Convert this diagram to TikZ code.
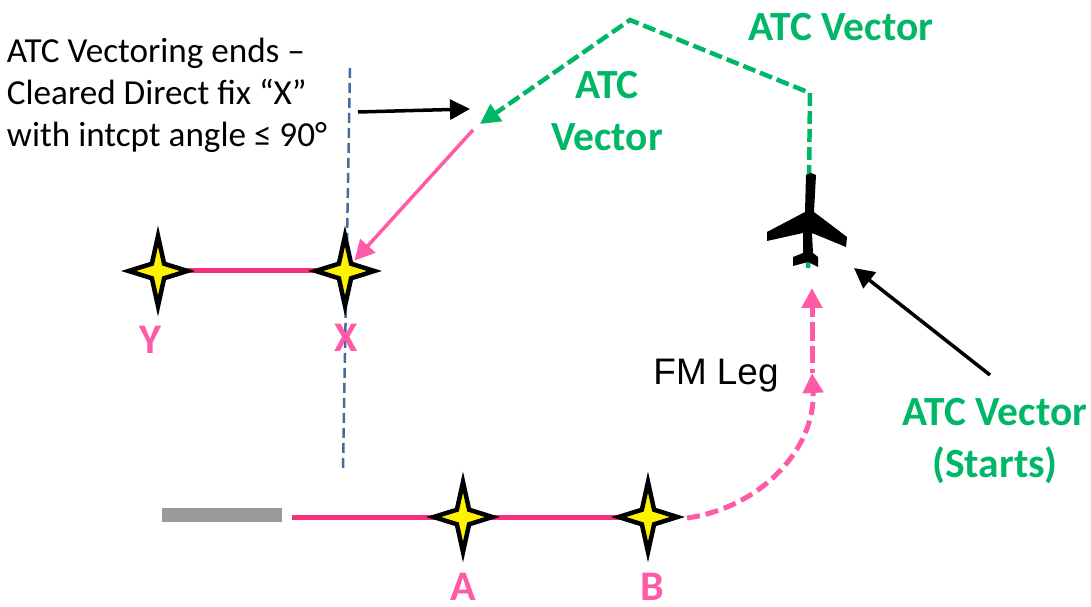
\documentclass[tikz,border=0pt]{standalone}
\usepackage{fontspec}
\setmainfont{Carlito}
\newfontfamily\legfont{Liberation Sans}
\usetikzlibrary{positioning,shapes.geometric,arrows.meta,backgrounds}
\definecolor{atcgreen}{HTML}{00B667}
\definecolor{fmpink}{HTML}{FF5AA8}
\definecolor{legpink}{HTML}{F5307C}
\definecolor{extblue}{HTML}{3F6F9F}
\definecolor{rwygray}{HTML}{9A9A9A}
\tikzset{
  fixstar/.style={star, star points=4, star point ratio=3.4, minimum size=0.7cm, inner sep=0pt,
    draw=black, fill=yellow, line width=0.045cm, miter limit=30, xscale=0.84, transform shape},
  fixlabel/.style={text=fmpink, font=\fontsize{12}{14}\selectfont\bfseries, inner sep=0pt},
  atclabel/.style={text=atcgreen, font=\fontsize{11.8}{14.6}\selectfont\bfseries, align=center, inner sep=0pt},
  atcpath/.style={draw=atcgreen, line width=0.045cm, dash pattern=on 0.13cm off 0.05cm},
  fmpath/.style={draw=fmpink, line width=0.035cm},
  pointer/.style={-{Triangle[length=0.2cm,width=0.2cm]}},
}
\begin{document}
\begin{tikzpicture}
   \useasboundingbox (0,0) rectangle (10.91,6.06);
   % fixes
   \node[fixstar] (fixY) at (1.58,3.35) {};
   \node[fixstar] (fixX) at (3.45,3.35) {};
   \node[fixstar] (fixA) at (4.63,0.89) {};
   \node[fixstar] (fixB) at (6.48,0.89) {};
   \node[fixlabel] (labelY) at (1.50,2.66) {Y};
   \node[fixlabel] (labelX) at (3.46,2.68) {X};
   \node[fixlabel] (labelA) at (4.63,0.19) {A};
   \node[fixlabel] (labelB) at (6.52,0.19) {B};
   \node[fill=rwygray, minimum width=1.2cm, minimum height=0.15cm, inner sep=0pt] (runway) at (2.22,0.91) {};

   % points on the route
   \coordinate (turnA) at (8.10,5.13);
   \coordinate (turnB) at (6.30,5.86);
   \coordinate (greenTip) at (4.80,4.82);
   \coordinate (pinkStart) at (4.73,4.76);
   \coordinate (legStart) at (6.87,0.88);
   \coordinate (legMid) at (8.12,2.33);
   \coordinate (legTip) at (8.12,3.18);
   \coordinate (rwyEnd) at (2.92,0.89);
   \coordinate (extTop) at (3.50,5.38);
   \coordinate (extBottom) at (3.43,1.38);
   \coordinate (planeTail) at (8.08,3.38);
   \coordinate (noteEnd) at (3.58,4.94);
   \coordinate (noteTip) at (4.70,4.97);
   \coordinate (startEnd) at (9.90,2.31);
   \coordinate (startTip) at (8.54,3.38);

   % texts
   \node[align=left, font=\fontsize{10}{11.9}\selectfont, inner sep=0pt] (note) at (1.67,5.11)
     {ATC Vectoring ends --\\Cleared Direct fix ``X''\\with intcpt angle ≤ 90°};
   \node[atclabel] (vecLeft) at (6.07,4.95) {ATC\\Vector};
   \node[atclabel] (vecTop) at (8.41,5.79) {ATC Vector};
   \node[atclabel] (vecStart) at (9.95,1.65) {ATC Vector\\(Starts)};
   \node[font=\fontsize{10.5}{12}\selectfont\legfont, inner sep=0pt] (fmLeg) at (7.16,2.30) {FM Leg};

   % aircraft
   \fill[black] (8.11,4.33) -- (8.16,4.31) -- (8.14,3.94) -- (8.47,3.69) -- (8.46,3.59)
     -- (8.12,3.73) -- (8.13,3.53) -- (8.18,3.49) -- (8.18,3.39) -- (8.08,3.44) -- (7.93,3.40)
     -- (7.93,3.49) -- (8.03,3.53) -- (8.03,3.73) -- (7.67,3.65) -- (7.67,3.74) -- (8.05,3.94)
     -- (8.06,4.31) -- cycle;

   \begin{scope}[on background layer]
     \draw[extblue, line width=0.025cm, dash pattern=on 0.1cm off 0.05cm] (extTop) -- (extBottom);
     \draw[legpink, line width=0.05cm] (fixY.center) -- (fixX.center);
     \draw[legpink, line width=0.05cm] (rwyEnd) -- (fixB.center);
     \draw[fmpath, pointer, shorten >=0.02cm] (pinkStart) -- (fixX);
     \draw[atcpath, pointer] (planeTail) -- (turnA) -- (turnB) -- (greenTip);
     \draw[fmpath, line width=0.05cm, pointer, dash pattern=on 0.13cm off 0.06cm] (legStart) to[out=8,in=-87] (legMid);
     \draw[fmpath, line width=0.05cm, pointer, dash pattern=on 0.04cm off 0.06cm on 0.17cm off 0.05cm on 0.19cm off 0.05cm on 0.2cm off 0.04cm] (legMid) -- (legTip);
     \draw[black, line width=0.035cm, pointer] (noteEnd) -- (noteTip);
     \draw[black, line width=0.035cm, pointer] (startEnd) -- (startTip);
   \end{scope}
\end{tikzpicture}
\end{document}
